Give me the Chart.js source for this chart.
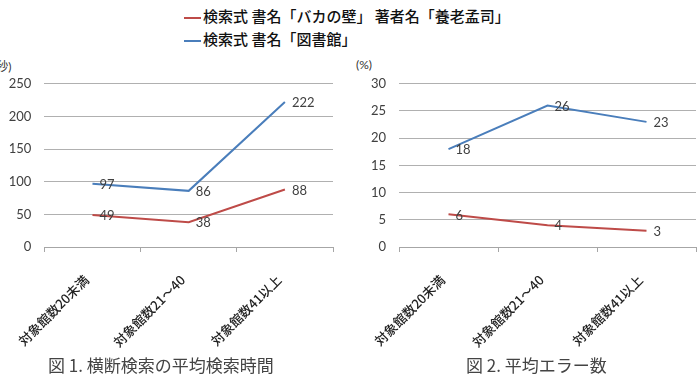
<!DOCTYPE html>
<html>
<head>
<meta charset="utf-8">
<script src="https://cdn.jsdelivr.net/npm/chart.js@4"></script>
<style>
body { margin: 0; width: 699px; height: 382px; background: #fff; position: relative; overflow: hidden; font-family: 'Noto Sans CJK JP', sans-serif; }
canvas { position: absolute; }
.legend-row { position: absolute; left: 184px; font-size: 15px; font-weight: 500; color: #111; white-space: nowrap; line-height: 20px; }
.legend-row span { display: inline-block; width: 17px; height: 2px; vertical-align: middle; margin-right: 2px; }
.unit { position: absolute; top: 57px; font-size: 12px; color: #333; font-family: Lato, 'Noto Sans CJK JP', sans-serif; }
.cap { position: absolute; top: 352px; font-size: 17px; color: #444; white-space: nowrap; }
</style>
</head>
<body>
<div class="legend-row" id="leg0" style="top:6px"></div>
<div class="legend-row" id="leg1" style="top:29px"></div>
<div class="unit" style="left:-7px">(秒)</div>
<div class="unit" style="left:356px">(%)</div>
<canvas id="c1" width="345" height="292" style="left:0;top:63px"></canvas>
<canvas id="c2" width="349" height="292" style="left:350px;top:63px"></canvas>
<div class="cap" style="left:48px">図 1. 横断検索の平均検索時間</div>
<div class="cap" style="left:466px">図 2. 平均エラー数</div>
<script>
// categories (x axis)
const categories = ['対象館数20未満', '対象館数21～40', '対象館数41以上'];
const seriesNames = ['検索式 書名「バカの壁」 著者名「養老孟司」', '検索式 書名「図書館」'];
const seriesColors = ['#be4b48', '#4a7ebb'];

// 図1: 平均検索時間 (秒)
const timeBaka = [49, 38, 88];
const timeTosho = [97, 86, 222];
// 図2: 平均エラー数 (%)
const errBaka = [6, 4, 3];
const errTosho = [18, 26, 23];

const timeAxis = {max: 250, step: 50};
const errAxis = {max: 30, step: 5};

const numFont = "Lato, 'Noto Sans CJK JP', sans-serif";

seriesNames.forEach((name, i) => {
    const row = document.getElementById('leg' + i);
    const line = document.createElement('span');
    line.style.background = seriesColors[i];
    row.appendChild(line);
    row.appendChild(document.createTextNode(name));
});

// value labels next to each point
const pointLabels = {
    id: 'pointLabels',
    afterDatasetsDraw(chart) {
        const ctx = chart.ctx;
        ctx.save();
        ctx.font = '13px ' + numFont;
        ctx.fillStyle = '#404040';
        ctx.textAlign = 'left';
        ctx.textBaseline = 'middle';
        chart.data.datasets.forEach((ds, i) => {
            chart.getDatasetMeta(i).data.forEach((pt, j) => {
                ctx.fillText(ds.data[j], pt.x + 7, pt.y + 1);
            });
        });
        ctx.restore();
    }
};

function makeChart(id, red, blue, axis, yWidth, padRight) {
    return new Chart(document.getElementById(id), {
        type: 'line',
        data: {
            labels: categories,
            datasets: [
                {label: seriesNames[0], data: red, borderColor: seriesColors[0]},
                {label: seriesNames[1], data: blue, borderColor: seriesColors[1]}
            ]
        },
        options: {
            responsive: false,
            animation: false,
            layout: {padding: {top: 5, right: padRight, left: 0, bottom: 0}},
            elements: {
                line: {borderWidth: 2, tension: 0, fill: false},
                point: {radius: 0}
            },
            plugins: {legend: {display: false}, tooltip: {enabled: false}},
            scales: {
                x: {
                    offset: true,
                    grid: {offset: true, drawOnChartArea: false, tickLength: 5, color: '#a6a6a6'},
                    border: {display: true, color: '#a6a6a6'},
                    ticks: {
                        autoSkip: false, maxRotation: 45, minRotation: 45, padding: 20, labelOffset: -6,
                        color: '#222', font: {size: 13, weight: '500', family: "'Noto Sans CJK JP', sans-serif"}
                    },
                    afterFit(scale) { scale.height = 108; }
                },
                y: {
                    min: 0, max: axis.max,
                    grid: {color: '#b0b0b0', drawTicks: false},
                    border: {display: false},
                    ticks: {stepSize: axis.step, padding: 13, color: '#404040', font: {size: 13, family: numFont}},
                    afterFit(scale) { scale.width = yWidth; }
                }
            }
        },
        plugins: [pointLabels]
    });
}

makeChart('c1', timeBaka, timeTosho, timeAxis, 41, 12);
makeChart('c2', errBaka, errTosho, errAxis, 49, 3);
</script>
</body>
</html>
